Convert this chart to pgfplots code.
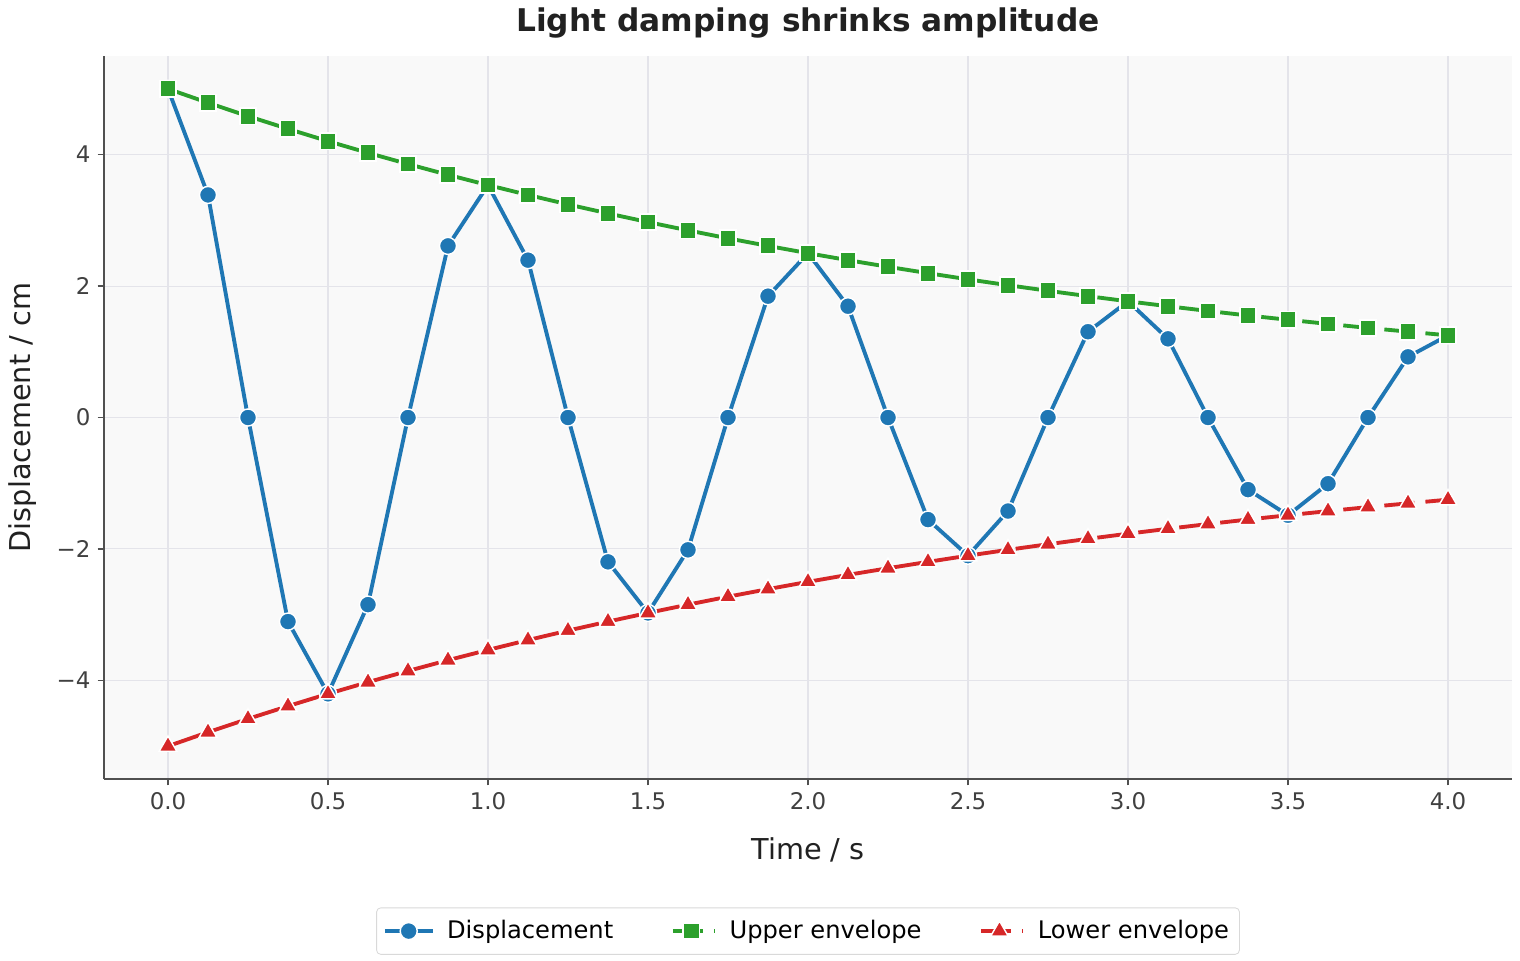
\documentclass[border=0pt]{standalone}
\usepackage{pgfplots}
\pgfplotsset{compat=1.18}
\usepackage{fontspec}
\setmainfont{DejaVu Sans}
\definecolor{cblue}{HTML}{1F77B4}
\definecolor{cgreen}{HTML}{2CA02C}
\definecolor{cred}{HTML}{D62728}
\definecolor{spine}{HTML}{505050}
\definecolor{ticktxt}{HTML}{404040}
\definecolor{gridc}{HTML}{E4E4EA}
\definecolor{bgc}{HTML}{F9F9F9}

% t, displacement, upper envelope, lower envelope
\pgfplotstableread{
t      x       up     lo
0.000  5.000   5.000  -5.000
0.125  3.386   4.788  -4.788
0.250  0.000   4.585  -4.585
0.375 -3.105   4.391  -4.391
0.500 -4.204   4.204  -4.204
0.625 -2.847   4.026  -4.026
0.750  0.000   3.856  -3.856
0.875  2.611   3.692  -3.692
1.000  3.536   3.536  -3.536
1.125  2.394   3.386  -3.386
1.250  0.000   3.242  -3.242
1.375 -2.196   3.105  -3.105
1.500 -2.973   2.973  -2.973
1.625 -2.013   2.847  -2.847
1.750  0.000   2.726  -2.726
1.875  1.846   2.611  -2.611
2.000  2.500   2.500  -2.500
2.125  1.693   2.394  -2.394
2.250  0.000   2.293  -2.293
2.375 -1.553   2.196  -2.196
2.500 -2.102   2.102  -2.102
2.625 -1.423   2.013  -2.013
2.750  0.000   1.928  -1.928
2.875  1.305   1.846  -1.846
3.000  1.768   1.768  -1.768
3.125  1.197   1.693  -1.693
3.250  0.000   1.621  -1.621
3.375 -1.097   1.552  -1.552
3.500 -1.487   1.487  -1.487
3.625 -1.007   1.424  -1.424
3.750  0.000   1.363  -1.363
3.875  0.923   1.306  -1.306
4.000  1.250   1.250  -1.250
}\osc

\begin{document}
\begin{tikzpicture}
\useasboundingbox (-49.92pt,-86.88pt) rectangle (679.68pt,373.92pt);
\begin{axis}[
  at={(0,0)}, anchor=south west,
  scale only axis,
  width=675.84pt, height=347.04pt,
  xmin=-0.2, xmax=4.2, ymin=-5.5, ymax=5.5,
  xtick={0,0.5,...,4}, ytick={-4,-2,0,2,4},
  yticklabels={−4,−2,0,2,4},
  xticklabel style={/pgf/number format/.cd, fixed, fixed zerofill, precision=1},
  /pgf/number format/assume math mode=true,
  axis lines*=left,
  axis line style={spine, line width=0.75pt},
  axis background/.style={fill=bgc},
  tick style={spine, line width=0.6pt},
  tick align=outside, major tick length=3pt,
  tick label style={font=\fontsize{11}{13}\selectfont, color=ticktxt},
  grid=major,
  major grid style={gridc, line width=0.5pt},
  xlabel={Time / s}, ylabel={Displacement / cm},
  label style={font=\fontsize{13.8}{16}\selectfont, color=black!87},
  xlabel style={at={(axis description cs:0.5,0)}, anchor=center, yshift=-34pt},
  ylabel style={at={(axis description cs:0,0.5)}, anchor=center, yshift=39pt},
  title={\textbf{Light damping shrinks amplitude}},
  title style={font=\fontsize{15}{17}\selectfont, color=black!87, at={(axis description cs:0.5,1)}, anchor=center, yshift=10pt},
  legend style={at={(axis description cs:0.5,0)}, anchor=center, yshift=-73pt,
    legend columns=3, draw=black!15, rounded corners=2pt, fill=white,
    font=\fontsize{11.6}{14}\selectfont,
    /tikz/every even column/.append style={column sep=23pt},
    /tikz/every odd column/.append style={column sep=4pt},
    inner xsep=3pt, inner ysep=4pt},
  legend cell align=left,
  legend image code/.code={%
    \draw[mark repeat=2, mark phase=2] plot coordinates {(0pt,0pt) (11.5pt,0pt) (23pt,0pt)};},
  every axis plot/.append style={line width=1.85pt},
  envdash/.style={dash pattern=on 14.5pt off 5.3pt, dash phase=17.15pt},
]
\addplot[cblue, mark=*, mark size=4.1pt,
  mark options={solid, fill=cblue, draw=white, line width=0.7pt}] table[x=t, y=x] {\osc};
\addlegendentry{Displacement}
\addplot[cgreen, envdash, mark=square*, mark size=3.9pt,
  mark options={solid, fill=cgreen, draw=white, line width=0.7pt}] table[x=t, y=up] {\osc};
\addlegendentry{Upper envelope}
\addplot[cred, envdash, mark=triangle*, mark size=4.9pt,
  mark options={solid, fill=cred, draw=white, line width=0.7pt}] table[x=t, y=lo] {\osc};
\addlegendentry{Lower envelope}
\end{axis}
\end{tikzpicture}
\end{document}
